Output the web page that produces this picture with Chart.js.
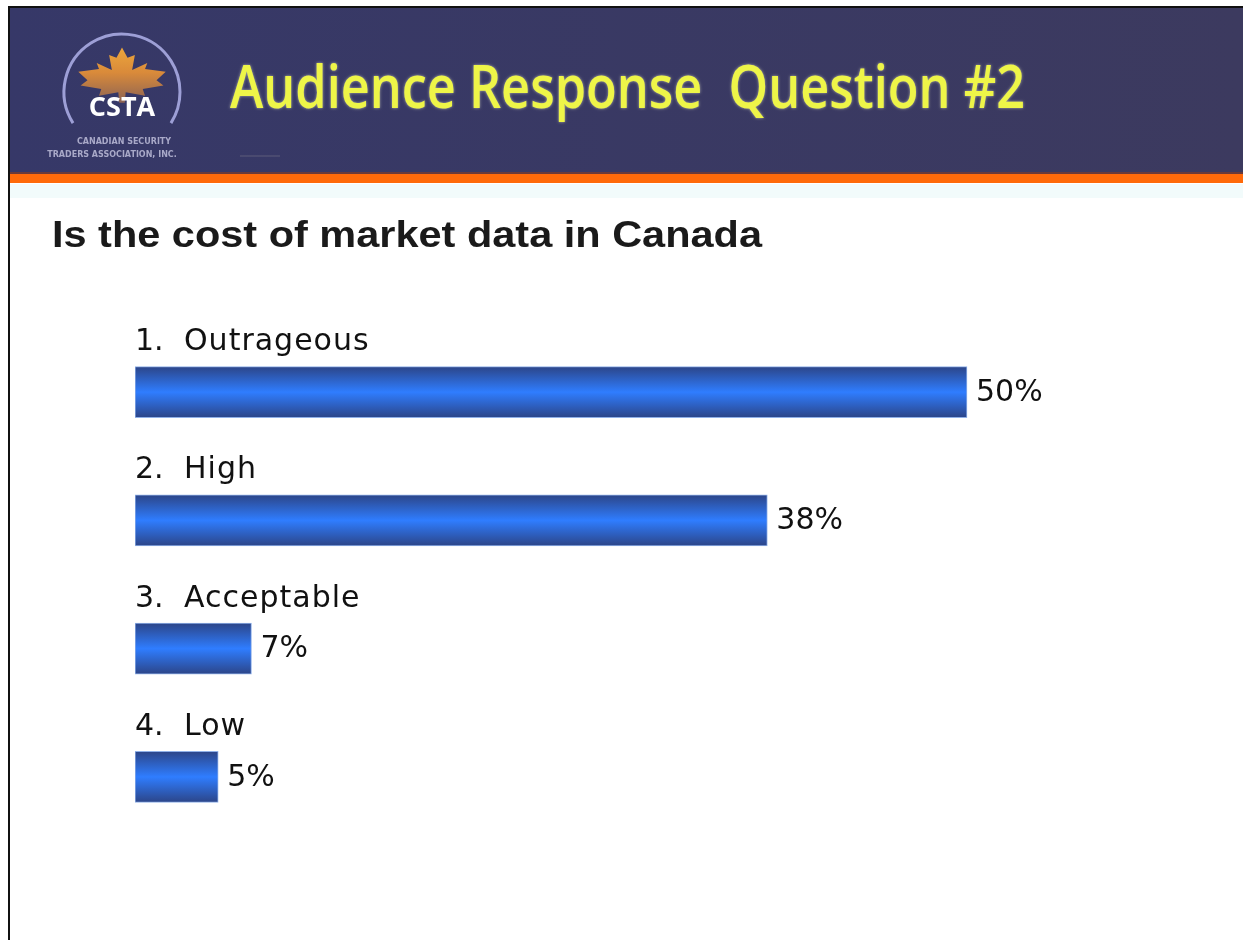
<!DOCTYPE html>
<html>
<head>
<meta charset="utf-8">
<script src="https://cdn.jsdelivr.net/npm/chart.js@4"></script>
<style>
    html, body { margin: 0; padding: 0; background: #ffffff; }
    canvas { display: block; }
</style>
</head>
<body>
<canvas id="pollChart" width="1243" height="940"></canvas>
<script>
const titleText = 'Audience Response  Question #2';
const questionText = 'Is the cost of market data in Canada';
const answerNumbers = ['1.', '2.', '3.', '4.'];
const answers = ['Outrageous', 'High', 'Acceptable', 'Low'];
const votes = [50, 38, 7, 5];

// fit a line of text to a given width by squeezing it horizontally
function fitText(ctx, text, x, y, width) {
    const w = ctx.measureText(text).width;
    ctx.save();
    ctx.translate(x, y);
    ctx.scale(width / w, 1);
    ctx.fillText(text, 0, 0);
    ctx.restore();
}

function drawLeaf(ctx, cx, cy, s) {
    // rough maple leaf outline
    const pts = [
        [0, -1.0], [0.12, -0.7], [0.28, -0.78], [0.22, -0.35], [0.55, -0.55],
        [0.5, -0.38], [0.95, -0.3], [0.75, -0.05], [0.9, 0.1], [0.45, 0.2],
        [0.5, 0.4], [0.08, 0.3], [0.06, 0.6], [-0.06, 0.6], [-0.08, 0.3],
        [-0.5, 0.4], [-0.45, 0.2], [-0.9, 0.1], [-0.75, -0.05], [-0.95, -0.3],
        [-0.5, -0.38], [-0.55, -0.55], [-0.22, -0.35], [-0.28, -0.78], [-0.12, -0.7]
    ];
    const g = ctx.createLinearGradient(cx, cy - s, cx, cy + s * 0.6);
    g.addColorStop(0, '#f6b43c');
    g.addColorStop(0.5, '#d98a3a');
    g.addColorStop(1, '#7a5a5a');
    ctx.fillStyle = g;
    ctx.beginPath();
    pts.forEach((p, i) => {
        const px = cx + p[0] * s;
        const py = cy + p[1] * s * 0.75;
        if (i === 0) ctx.moveTo(px, py); else ctx.lineTo(px, py);
    });
    ctx.closePath();
    ctx.fill();
}

const slidePlugin = {
    id: 'slide',
    beforeDraw(chart) {
        const ctx = chart.ctx;
        const W = chart.width;
        ctx.save();
        // header band
        const hg = ctx.createLinearGradient(0, 0, W, 0);
        hg.addColorStop(0, '#363868');
        hg.addColorStop(1, '#3c3a5f');
        ctx.fillStyle = hg;
        ctx.fillRect(9, 8, W - 9, 166);
        ctx.fillStyle = '#6a3a3a';
        ctx.fillRect(9, 172, W - 9, 2);
        ctx.fillStyle = '#ff6a0a';
        ctx.fillRect(9, 174, W - 9, 9);
        ctx.fillStyle = '#f2fbfb';
        ctx.fillRect(9, 184, W - 9, 14);

        // frame lines
        ctx.fillStyle = '#111111';
        ctx.fillRect(8, 6, W - 8, 2);
        ctx.fillRect(8, 6, 2, chart.height - 6);

        // logo
        ctx.strokeStyle = '#9d9fd6';
        ctx.lineWidth = 3;
        ctx.beginPath();
        ctx.arc(122, 92, 58, Math.PI * 0.82, Math.PI * 0.18 + Math.PI * 2);
        ctx.stroke();
        drawLeaf(ctx, 122, 82, 46);
        ctx.fillStyle = '#ffffff';
        ctx.font = 'bold 27px "Open Sans", "DejaVu Sans", sans-serif';
        ctx.textAlign = 'center';
        ctx.textBaseline = 'alphabetic';
        ctx.fillText('CSTA', 122, 116);
        ctx.fillStyle = '#a9a9c8';
        ctx.font = 'bold 8px "DejaVu Sans", sans-serif';
        ctx.fillText('CANADIAN SECURITY', 124, 144);
        ctx.fillText('TRADERS ASSOCIATION, INC.', 112, 157);
        ctx.fillStyle = '#4a4a70';
        ctx.fillRect(240, 155, 40, 2);

        // title
        ctx.textAlign = 'left';
        ctx.font = '600 60px "Open Sans", "DejaVu Sans", sans-serif';
        ctx.fillStyle = '#eef548';
        ctx.shadowColor = 'rgba(255, 255, 210, 0.6)';
        ctx.shadowBlur = 3;
        fitText(ctx, titleText, 230, 108, 795);
        ctx.shadowBlur = 0;

        // question
        ctx.fillStyle = '#1a1a1a';
        ctx.font = 'bold 36px "Liberation Sans", Arial, sans-serif';
        fitText(ctx, questionText, 52, 247, 710);
        ctx.restore();
    },
    afterDatasetsDraw(chart) {
        const ctx = chart.ctx;
        const xs = chart.scales.x;
        const ys = chart.scales.y;
        ctx.save();
        ctx.fillStyle = '#111111';
        ctx.textAlign = 'left';
        answers.forEach((a, i) => {
            const yc = ys.getPixelForValue(i);
            ctx.font = '30px "DejaVu Sans", sans-serif';
            ctx.textBaseline = 'alphabetic';
            ctx.letterSpacing = '0px';
            ctx.fillText(answerNumbers[i], 135, yc - 42);
            ctx.letterSpacing = '1px';
            ctx.fillText(a, 184, yc - 42);
            ctx.letterSpacing = '0px';
            ctx.textBaseline = 'middle';
            ctx.fillText(votes[i] + '%', xs.getPixelForValue(votes[i]) + 9, yc + 1);
        });
        ctx.restore();
    }
};

function barGradient(context) {
    const chart = context.chart;
    const ys = chart.scales.y;
    const yc = ys ? ys.getPixelForValue(context.dataIndex) : NaN;
    if (!isFinite(yc)) return '#2e7bff';
    const g = chart.ctx.createLinearGradient(0, yc - 26, 0, yc + 26);
    g.addColorStop(0, '#2c4486');
    g.addColorStop(0.5, '#2f7dff');
    g.addColorStop(1, '#2c4486');
    return g;
}

const ctx = document.getElementById('pollChart').getContext('2d');
const pollChart = new Chart(ctx, {
    type: 'bar',
    data: {
        labels: answers,
        datasets: [{
            data: votes,
            backgroundColor: barGradient,
            borderColor: '#8fb0e8',
            borderWidth: 1,
            borderSkipped: false,
            barThickness: 51
        }]
    },
    options: {
        indexAxis: 'y',
        responsive: false,
        animation: false,
        layout: { padding: { left: 135, right: 109.6, top: 328, bottom: 99 } },
        scales: {
            x: { display: false, min: 0, max: 60 },
            y: { display: false }
        },
        plugins: {
            legend: { display: false },
            tooltip: { enabled: false }
        }
    },
    plugins: [slidePlugin]
});
</script>
</body>
</html>
